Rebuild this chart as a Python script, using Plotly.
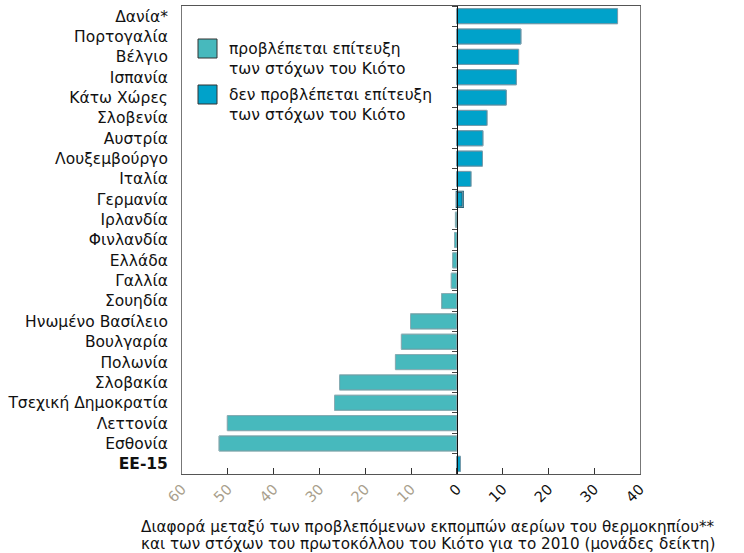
import plotly.graph_objects as go

countries = ["Δανία*", "Πορτογαλία", "Βέλγιο", "Ισπανία", "Κάτω Χώρες", "Σλοβενία",
             "Αυστρία", "Λουξεμβούργο", "Ιταλία", "Γερμανία", "Ιρλανδία", "Φινλανδία",
             "Ελλάδα", "Γαλλία", "Σουηδία", "Ηνωμένο Βασίλειο", "Βουλγαρία", "Πολωνία",
             "Σλοβακία", "Τσεχική Δημοκρατία", "Λεττονία", "Εσθονία", "<b>ΕΕ-15</b>"]
values = [35.1, 14.0, 13.5, 13.0, 10.8, 6.6, 5.7, 5.6, 3.1, 1.3, -0.3, -0.5,
          -0.9, -1.2, -3.3, -10.1, -12.1, -13.4, -25.6, -26.7, -50.1, -51.9, 0.8]
achieves = [False, False, False, False, False, False, False, False, False, False,
            True, True, True, True, True, True, True, True, True, True, True, True, False]

tick_vals = [-60, -50, -40, -30, -20, -10, 0, 10, 20, 30, 40]
tick_text = ["60", "50", "40", "30", "20", "10", "0", "10", "20", "30", "40"]

legend_labels = ["προβλέπεται επίτευξη<br>των στόχων του Κιότο",
                 "δεν προβλέπεται επίτευξη<br>των στόχων του Κιότο"]
axis_title_lines = ["Διαφορά μεταξύ των προβλεπόμενων εκπομπών αερίων του θερμοκηπίου**",
                    "και των στόχων του πρωτοκόλλου του Κιότο για το 2010 (μονάδες δείκτη)"]

TEAL = "#47B9BD"
BLUE = "#00A2CA"
GREY_TICK = "#A99F8D"
FONT = "DejaVu Sans"

colors = [TEAL if a else BLUE for a in achieves]
line_cols = ["#2E6F73" if a else "#0B4F66" for a in achieves]
line_w = [2.2 if c == "Γερμανία" else 1 for c in countries]

W, H = 744, 553
ML, MR, MT, MB = 182, 104, 6, 79
PW, PH = W - ML - MR, H - MT - MB

fig = go.Figure()
fig.add_trace(go.Bar(
    x=values, y=countries, orientation="h",
    marker=dict(color=colors, line=dict(color=line_cols, width=line_w)),
    width=0.74, showlegend=False, hoverinfo="x+y",
))
# invisible copy on the zero-positioned axis to carry its boundary ticks
fig.add_trace(go.Bar(
    x=values, y=countries, orientation="h", yaxis="y2",
    marker=dict(color="rgba(0,0,0,0)"), width=0.74,
    showlegend=False, hoverinfo="skip",
))

ttext = [f"<span style='color:{GREY_TICK}'>{t}</span>" if v < 0 else t
         for v, t in zip(tick_vals, tick_text)]

fig.update_layout(
    width=W, height=H,
    margin=dict(l=ML, r=MR, t=MT, b=MB, autoexpand=False),
    paper_bgcolor="white", plot_bgcolor="white",
    font=dict(family=FONT, size=15, color="#111"),
    barmode="overlay",
    xaxis=dict(range=[-60, 40], tickvals=tick_vals, ticktext=ttext, tickangle=-45,
               ticks="inside", ticklen=6, tickcolor="#333",
               showline=True, linecolor="#555", linewidth=1, mirror=True,
               showgrid=False, zeroline=False, tickfont=dict(size=14.5, color="#111")),
    yaxis=dict(type="category", categoryorder="array", categoryarray=countries,
               autorange="reversed", showline=True, linecolor="#777", mirror=True,
               ticks="", showgrid=False, ticklabelstandoff=10,
               tickfont=dict(size=15.5, color="#111")),
    yaxis2=dict(type="category", categoryorder="array", categoryarray=countries,
                overlaying="y", matches="y", anchor="free", position=0.6,
                side="left", showticklabels=False, ticks="outside", tickson="boundaries",
                ticklen=5, tickcolor="#444", showline=True, linecolor="#111",
                linewidth=1, showgrid=False),
)

# legend (drawn manually to match the large swatches)
for i, (lab, col) in enumerate(zip(legend_labels, [TEAL, BLUE])):
    top = 33 + i * 46
    fig.add_shape(type="rect", xref="paper", yref="paper",
                  x0=16 / PW, x1=35 / PW, y0=1 - top / PH, y1=1 - (top + 19) / PH,
                  fillcolor=col, line=dict(color="#333", width=1))
    fig.add_annotation(xref="paper", yref="paper", x=45 / PW, y=1 - (top - 1) / PH,
                       xanchor="left", yanchor="top", align="left", showarrow=False,
                       text=lab, font=dict(size=15.5, color="#111"))

for j, line in enumerate(axis_title_lines):
    fig.add_annotation(xref="paper", yref="paper", x=(428 - ML) / PW, y=0,
                       yshift=-(53 + 16.5 * j), xanchor="center", yanchor="middle",
                       showarrow=False, text=line, font=dict(size=15.2, color="#111"))

fig.write_html("out.html", config={"displayModeBar": False},
               post_script="document.body.style.margin='0';")
